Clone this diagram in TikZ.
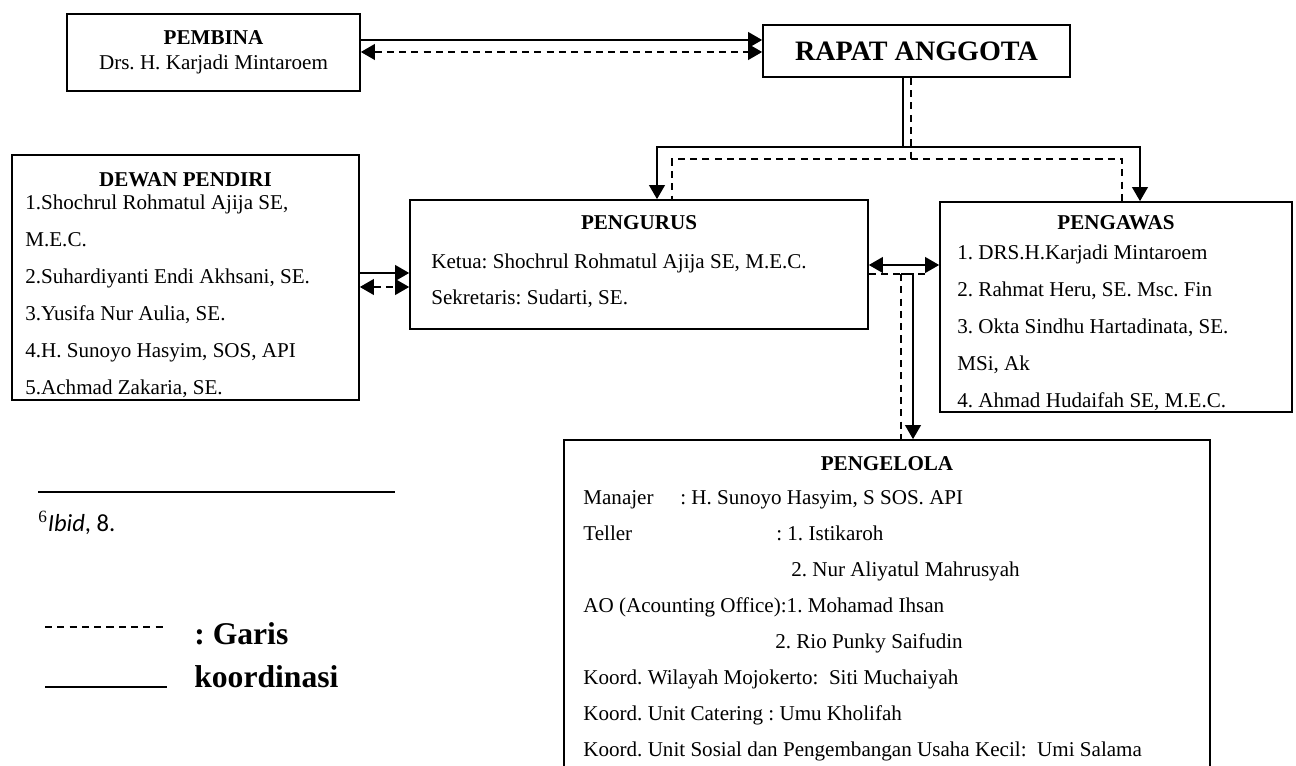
\documentclass[tikz,border=0pt]{standalone}
\usepackage{fontspec}
\setmainfont{Liberation Serif}
\newfontfamily\calibri{Carlito}
\usetikzlibrary{arrows.meta}
\frenchspacing

\begin{document}
\begin{tikzpicture}[x=0.02cm, y=-0.02cm,
    box/.style={draw, line width=1pt, inner sep=0pt},
    ttl/.style={inner sep=0pt, font=\fontsize{12}{14}\selectfont\bfseries},
    lst/.style={anchor=north west, inner sep=0pt, align=left, font=\fontsize{12}{21}\selectfont},
    conn/.style={line width=0.9pt},
    dconn/.style={line width=0.9pt, dash pattern=on 4pt off 3pt},
    tri/.tip={Triangle[length=8pt, width=9pt]}]
\useasboundingbox (0,0) rectangle (1296,766);

% Drawing boxes
\node[box, minimum width=5.86cm, minimum height=1.54cm] (pembina) at (213.5,52.5) {};
\node[box, minimum width=6.14cm, minimum height=1.04cm] (rapat) at (916.5,51) {};
\node[box, minimum width=6.94cm, minimum height=4.9cm] (dewan) at (185.5,277.5) {};
\node[box, minimum width=9.16cm, minimum height=2.58cm] (pengurus) at (639,264.5) {};
\node[box, minimum width=7.04cm, minimum height=4.2cm] (pengawas) at (1116,307) {};
\node[box, minimum width=12.92cm, minimum height=7cm] (pengelola) at (887,615) {};

% Texts of Pembina and Rapat Anggota
\node[align=center, inner sep=0pt, font=\fontsize{12}{14.5}\selectfont] (pembina-txt) at (pembina)
  {\textbf{PEMBINA}\\Drs. H. Karjadi Mintaroem};
\node[inner sep=0pt, font=\fontsize{16}{18}\selectfont\bfseries] (rapat-txt) at (rapat) {RAPAT ANGGOTA};

% Texts of Dewan Pendiri
\node[ttl] (dewan-t) at (185.5,180) {DEWAN PENDIRI};
\node[lst] (dewan-txt) at (25,195) {1.Shochrul Rohmatul Ajija SE,\\M.E.C.\\2.Suhardiyanti Endi Akhsani, SE.\\
  3.Yusifa Nur Aulia, SE.\\4.H. Sunoyo Hasyim, SOS, API\\5.Achmad Zakaria, SE.};

% Texts of Pengurus
\node[ttl] (pengurus-t) at (639,223) {PENGURUS};
\node[lst, font=\fontsize{12}{20}\selectfont] (pengurus-txt) at (431,254)
  {Ketua: Shochrul Rohmatul Ajija SE, M.E.C.\\Sekretaris: Sudarti, SE.};

% Texts of Pengawas
\node[ttl] (pengawas-t) at (1116,223) {PENGAWAS};
\node[lst] (pengawas-txt) at (957,245) {1. DRS.H.Karjadi Mintaroem\\2. Rahmat Heru, SE. Msc. Fin\\
  3. Okta Sindhu Hartadinata, SE.\\MSi, Ak\\4. Ahmad Hudaifah SE, M.E.C.};

% Texts of Pengelola
\node[ttl] (pengelola-t) at (887,464) {PENGELOLA};
\node[lst, font=\fontsize{12}{20.5}\selectfont] (pengelola-txt) at (583,490)
  {\makebox[1.94cm][l]{Manajer}: H. Sunoyo Hasyim, S SOS. API\\
   \makebox[3.86cm][l]{Teller}: 1. Istikaroh\\
   \hspace*{4.16cm}2. Nur Aliyatul Mahrusyah\\
   AO (Acounting Office):1. Mohamad Ihsan\\
   \hspace*{3.84cm}2. Rio Punky Saifudin\\
   Koord. Wilayah Mojokerto:\ \ Siti Muchaiyah\\
   Koord. Unit Catering : Umu Kholifah\\
   Koord. Unit Sosial dan Pengembangan Usaha Kecil:\ \ Umi Salama};

% Levels of the connectors
\coordinate (yA) at (0,40);
\coordinate (yB) at (0,52);
\coordinate (yC) at (0,273);
\coordinate (yD) at (0,287);
\coordinate (yE) at (0,265);
\coordinate (yF) at (0,274);
\coordinate (hub) at (903,147);
\coordinate (dhub) at (911,159);
\coordinate (pl) at (657,0);
\coordinate (pr) at (1140,0);
\coordinate (ql) at (672,0);
\coordinate (qr) at (1122,0);
\coordinate (dend) at (927,274);
\coordinate (dk) at (901,274);
\coordinate (sk) at (913,0);

% Drawing Pembina -- Rapat Anggota
\draw[conn, -tri] (pembina.east |- yA) -- (rapat.west |- yA);
\draw[dconn, tri-tri] (pembina.east |- yB) -- (rapat.west |- yB);

% Drawing Rapat Anggota -- Pengurus, Pengawas
\draw[conn, -tri] (rapat.south -| hub) -- (hub) -| (pengurus.north -| pl);
\draw[conn, -tri] (hub) -| (pengawas.north -| pr);
\draw[dconn] (rapat.south -| dhub) -- (dhub) -| (pengurus.north -| ql);
\draw[dconn] (dhub) -| (pengawas.north -| qr);

% Drawing Dewan Pendiri -- Pengurus
\draw[conn, -tri] (dewan.east |- yC) -- (pengurus.west |- yC);
\draw[dconn, tri-tri] (dewan.east |- yD) -- (pengurus.west |- yD);

% Drawing Pengurus -- Pengawas, Pengelola
\draw[conn, tri-tri] (pengurus.east |- yE) -- (pengawas.west |- yE);
\draw[dconn] (pengurus.east |- yF) -- (dend);
\draw[dconn] (dk) -- (dk |- pengelola.north);
\draw[conn, -tri] (dk) -| (pengelola.north -| sk);

% Footnote
\draw[line width=1pt] (38,492) -- (395,492);
\node[anchor=base west, inner sep=0pt, font=\fontsize{14}{16}\selectfont] (fnote) at (38,532)
  {\textsuperscript{6}{\calibri\itshape Ibid\upshape, 8.}};

% Legend
\draw[line width=0.6pt, dash pattern=on 4pt off 3pt] (45,627) -- (163,627);
\draw[line width=1.2pt] (45,687) -- (167,687);
\node[anchor=north west, inner sep=0pt, align=left, font=\fontsize{18}{24.5}\selectfont\bfseries] (legend)
  at (194,622) {: Garis\\koordinasi};
\end{tikzpicture}
\end{document}
